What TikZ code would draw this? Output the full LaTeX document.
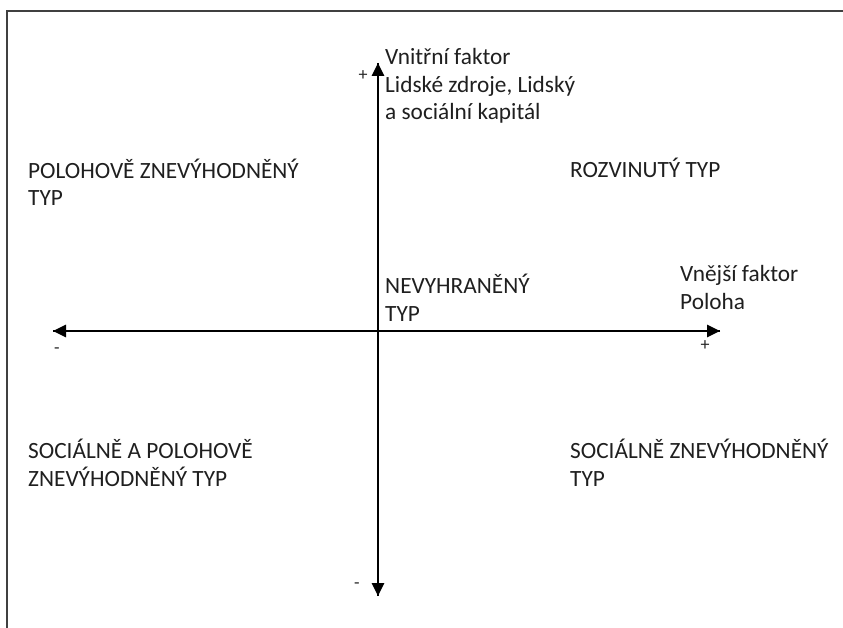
\documentclass[tikz,border=0pt]{standalone}
\usepackage{fontspec}
\setmainfont{Carlito}
\usetikzlibrary{arrows.meta}
\begin{document}
\begin{tikzpicture}[x=1pt,y=-1pt,
  lbl/.style={anchor=base west,inner sep=0pt,align=left,text=black!88,
    font=\fontsize{23.3}{27.5}\selectfont},
  sgn/.style={inner sep=0pt,text=black!85,font=\fontsize{18}{20}\selectfont},
  axis/.style={line width=2.6pt,black},
  tip/.style={-{Triangle[length=13pt,width=12pt]}},
  frame/.style={line width=2pt,black!75}]
\useasboundingbox (0,0) rectangle (843,628);
% frame (top and left edges only)
\coordinate (fTR) at (843,11);
\coordinate (fTL) at (7,11);
\coordinate (fBL) at (7,628);
\draw[frame] (fTR) -- (fTL) -- (fBL);
% axes
\coordinate (vTop) at (378,63);
\coordinate (vBot) at (378,596);
\coordinate (hL) at (53,331);
\coordinate (hR) at (720,331);
\draw[axis,tip] (vBot) -- (vTop);
\draw[axis,tip] (vTop) -- (vBot);
\draw[axis,tip] (hR) -- (hL);
\draw[axis,tip] (hL) -- (hR);
% signs
\node[sgn] (pTop) at (363,76) {+};
\node[sgn] (pR) at (705,346) {+};
\node[sgn] (mL) at (57,351) {-};
\node[sgn] (mB) at (357,586) {-};
% labels (anchor is the baseline of the last line)
\node[lbl] (vin) at (385,120) {Vnitřní faktor\\Lidské zdroje, Lidský\\a sociální kapitál};
\node[lbl] (vne) at (680,309) {Vnější faktor\\Poloha};
\node[lbl] (q2) at (28,206) {POLOHOVĚ ZNEVÝHODNĚNÝ\\TYP};
\node[lbl] (q1) at (570,177.5) {ROZVINUTÝ TYP};
\node[lbl] (mid) at (385,321) {NEVYHRANĚNÝ\\TYP};
\node[lbl] (q3) at (28,486) {SOCIÁLNĚ A POLOHOVĚ\\ZNEVÝHODNĚNÝ TYP};
\node[lbl] (q4) at (570,486) {SOCIÁLNĚ ZNEVÝHODNĚNÝ\\TYP};
\end{tikzpicture}
\end{document}
